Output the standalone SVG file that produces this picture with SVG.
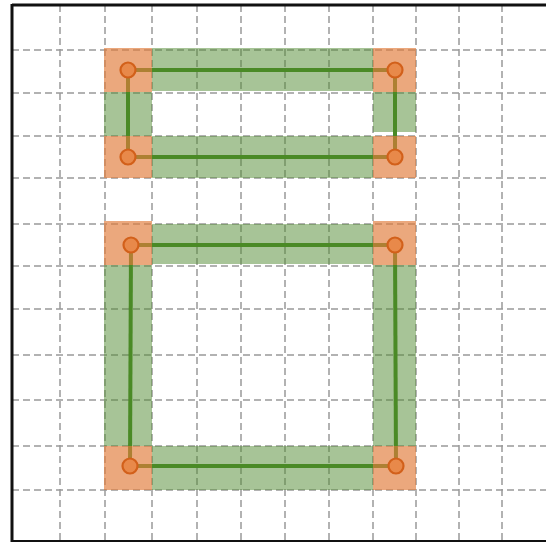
<svg xmlns="http://www.w3.org/2000/svg" width="546" height="542" viewBox="0 0 546 542">
<style>
.grid line{stroke:#999999;stroke-width:1.5;stroke-dasharray:7 4}
.band{fill:#4f8a30;fill-opacity:0.5}
.corner{fill:#e07b3a;fill-opacity:0.66}
.edge{stroke:#4a8a26;stroke-width:4;fill:none}
.pt{fill:#e8894a;stroke:#d2601a;stroke-width:2.2}
</style>
<rect x="0" y="0" width="546" height="542" fill="#ffffff"/>
<g id="grid" class="grid">
<line x1="60" y1="5" x2="60" y2="541"/>
<line x1="105" y1="5" x2="105" y2="541"/>
<line x1="152" y1="5" x2="152" y2="541"/>
<line x1="197" y1="5" x2="197" y2="541"/>
<line x1="241" y1="5" x2="241" y2="541"/>
<line x1="285" y1="5" x2="285" y2="541"/>
<line x1="329" y1="5" x2="329" y2="541"/>
<line x1="373" y1="5" x2="373" y2="541"/>
<line x1="416" y1="5" x2="416" y2="541"/>
<line x1="459" y1="5" x2="459" y2="541"/>
<line x1="502" y1="5" x2="502" y2="541"/>
<line x1="12" y1="50" x2="546" y2="50"/>
<line x1="12" y1="93" x2="546" y2="93"/>
<line x1="12" y1="136" x2="546" y2="136"/>
<line x1="12" y1="178" x2="546" y2="178"/>
<line x1="12" y1="224" x2="546" y2="224"/>
<line x1="12" y1="266" x2="546" y2="266"/>
<line x1="12" y1="309" x2="546" y2="309"/>
<line x1="12" y1="355" x2="546" y2="355"/>
<line x1="12" y1="400" x2="546" y2="400"/>
<line x1="12" y1="446" x2="546" y2="446"/>
<line x1="12" y1="490" x2="546" y2="490"/>
</g>
<g id="frame">
<line x1="12" y1="5" x2="546" y2="5" stroke="#111" stroke-width="3"/>
<line x1="12" y1="4" x2="12" y2="542" stroke="#111" stroke-width="3"/>
<line x1="12" y1="541" x2="546" y2="541" stroke="#111" stroke-width="2"/>
</g>
<g id="bands">
<rect class="band" x="152" y="48" width="221" height="43"/>
<rect class="band" x="152" y="136" width="221" height="42"/>
<rect class="band" x="104" y="92" width="48" height="44"/>
<rect class="band" x="373" y="92" width="43" height="40"/>
<rect class="band" x="152" y="224" width="221" height="40"/>
<rect class="band" x="152" y="446" width="221" height="44"/>
<rect class="band" x="104" y="265" width="48" height="181"/>
<rect class="band" x="373" y="265" width="43" height="181"/>
</g>
<g id="connectors">
<line class="edge" x1="128" y1="70" x2="395" y2="70"/>
<line class="edge" x1="128" y1="70" x2="128" y2="157"/>
<line class="edge" x1="395" y1="70" x2="395" y2="157"/>
<line class="edge" x1="128" y1="157" x2="395" y2="157"/>
<line class="edge" x1="131" y1="245" x2="395" y2="245"/>
<line class="edge" x1="131" y1="245" x2="130" y2="466"/>
<line class="edge" x1="395" y1="245" x2="396" y2="466"/>
<line class="edge" x1="130" y1="466" x2="396" y2="466"/>
</g>
<g id="corners">
<rect class="corner" x="104" y="48" width="48" height="44"/>
<rect class="corner" x="373" y="48" width="43" height="44"/>
<rect class="corner" x="104" y="136" width="48" height="42"/>
<rect class="corner" x="373" y="136" width="43" height="42"/>
<rect class="corner" x="104" y="221" width="48" height="44"/>
<rect class="corner" x="373" y="221" width="43" height="44"/>
<rect class="corner" x="104" y="446" width="48" height="44"/>
<rect class="corner" x="373" y="446" width="43" height="44"/>
</g>
<g id="n1"><circle class="pt" cx="128" cy="70" r="7.5"/></g>
<g id="n2"><circle class="pt" cx="395" cy="70" r="7.5"/></g>
<g id="n3"><circle class="pt" cx="128" cy="157" r="7.5"/></g>
<g id="n4"><circle class="pt" cx="395" cy="157" r="7.5"/></g>
<g id="n5"><circle class="pt" cx="131" cy="245" r="7.5"/></g>
<g id="n6"><circle class="pt" cx="395" cy="245" r="7.5"/></g>
<g id="n7"><circle class="pt" cx="130" cy="466" r="7.5"/></g>
<g id="n8"><circle class="pt" cx="396" cy="466" r="7.5"/></g>
</svg>
